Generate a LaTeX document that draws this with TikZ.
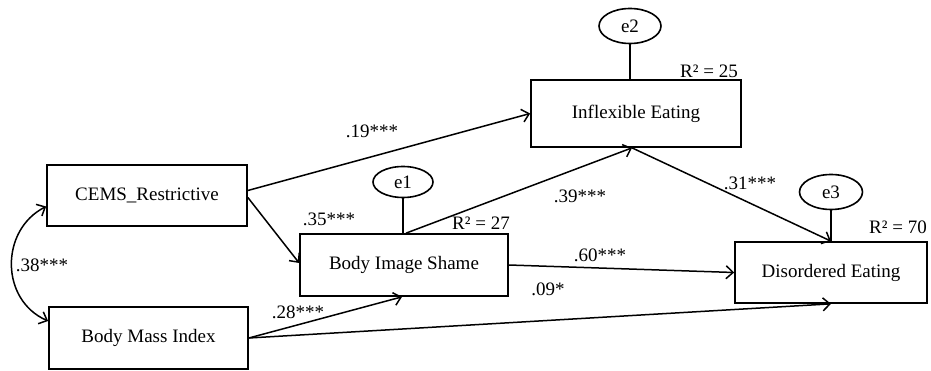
\documentclass[tikz,border=0pt]{standalone}
\usepackage{fontspec}
\setmainfont{Liberation Serif}
\usetikzlibrary{arrows.meta,shapes.geometric}
\begin{document}
\begin{tikzpicture}[x=1pt,y=-1pt,
  every node/.style={font=\fontsize{19}{21}\selectfont},
  var/.style={draw,line width=1.7pt,rectangle,inner sep=0pt},
  err/.style={draw,line width=1.6pt,ellipse,inner sep=0pt},
  tip/.style={Straight Barb[length=7pt,width=13pt,line width=1.5pt]},
  path/.style={line width=1.5pt,-{Straight Barb[length=7pt,width=13pt,line width=1.5pt]}},
  link/.style={line width=1.5pt},
  lab/.style={inner sep=1pt}]
\useasboundingbox (0,0) rectangle (931,371);
\node[var,minimum width=200pt,minimum height=61pt] (cems) at (147,195.5) {CEMS\_Restrictive};
\node[var,minimum width=199pt,minimum height=62pt] (bmi) at (148.5,338) {Body Mass Index};
\node[var,minimum width=208pt,minimum height=62pt] (bis) at (404,265) {Body Image Shame};
\node[var,minimum width=210pt,minimum height=67pt] (ie) at (636,113.5) {Inflexible Eating};
\node[var,minimum width=192pt,minimum height=61pt] (de) at (831,272.5) {Disordered Eating};
\node[err,minimum width=60pt,minimum height=31pt] (e1) at (403,182) {e1};
\node[err,minimum width=62pt,minimum height=35pt] (e2) at (630,26) {e2};
\node[err,minimum width=63pt,minimum height=35pt] (e3) at (831,192) {e3};
\draw[link] (e1) -- (e1 |- bis.north);
\draw[link] (e2) -- (e2 |- ie.north);
\draw[link] (e3) -- (e3 |- de.north);
\draw[path] ([yshift=5pt]cems.east) -- (ie.west);
\draw[path] ([yshift=-2pt]cems.east) -- ([yshift=2pt]bis.west);
\draw[path] (bmi.east) -- ([xshift=-2pt]bis.south);
\draw[path] (bmi.east) -- (de.south);
\draw[path] ([xshift=2pt]bis.north) -- ([xshift=-4pt]ie.south);
\draw[path] (bis.east) -- (de.west);
\draw[path] ([xshift=-4pt]ie.south) -- (de.north);
\draw[line width=1.5pt,{Straight Barb[length=7pt,width=13pt,line width=1.5pt]}-{Straight Barb[length=7pt,width=13pt,line width=1.5pt]}]
  ([yshift=-11pt]cems.west) .. controls (0,230) and (0,300) .. ([yshift=17pt]bmi.west);
\node[lab] (l19) at (372,131) {.19***};
\node[lab] (l35) at (329,219) {.35***};
\node[lab] (l38) at (42,265) {.38***};
\node[lab] (l28) at (298,312) {.28***};
\node[lab] (l39) at (580,196) {.39***};
\node[lab] (l60) at (600,255) {.60***};
\node[lab] (l09) at (548,289) {.09*};
\node[lab] (l31) at (750,183) {.31***};
\node[lab] (r1) at (481,223) {R² = 27};
\node[lab] (r2) at (709,71) {R² = 25};
\node[lab] (r3) at (898,227) {R² = 70};
\end{tikzpicture}
\end{document}
